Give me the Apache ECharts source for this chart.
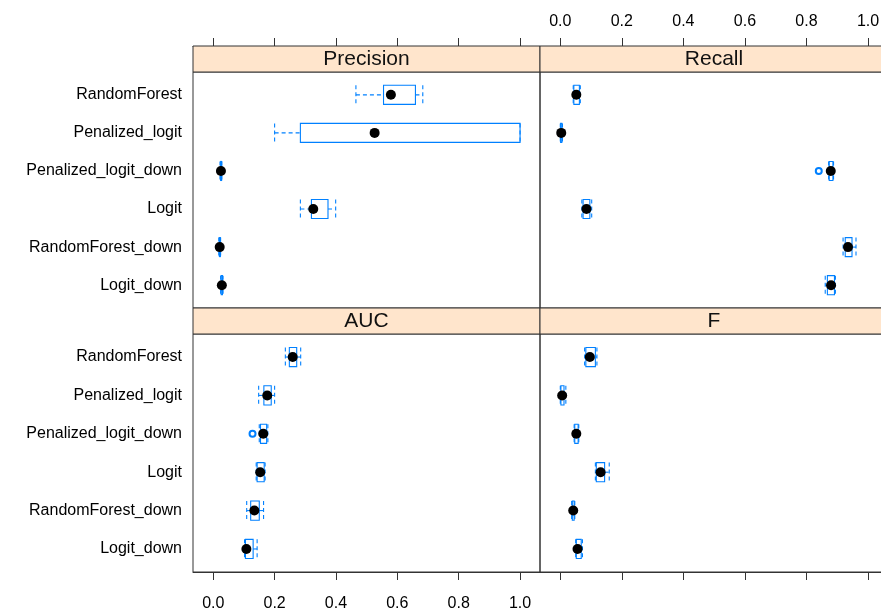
<!DOCTYPE html>
<html>
<head>
<meta charset="utf-8">
<script src="https://cdn.jsdelivr.net/npm/echarts@6/dist/echarts.min.js"></script>
<style>html,body{margin:0;padding:0;background:#fff;overflow:hidden}#c{width:900px;height:609px}</style>
</head>
<body>
<div id="c"></div>
<script>
// categories listed bottom to top (lattice order)
const categories = ['Logit_down', 'RandomForest_down', 'Logit', 'Penalized_logit_down', 'Penalized_logit', 'RandomForest'];
const panelTitles = ['Precision', 'Recall', 'AUC', 'F'];
const xTicks = [0, 0.2, 0.4, 0.6, 0.8, 1.0];

// [min, q1, median, q3, max] per category (same order as categories)
const precisionStats = [
  [0.024, 0.026, 0.028, 0.030, 0.032],
  [0.018, 0.020, 0.021, 0.023, 0.024],
  [0.284, 0.320, 0.326, 0.374, 0.399],
  [0.022, 0.024, 0.025, 0.027, 0.028],
  [0.200, 0.284, 0.526, 1.000, 1.000],
  [0.465, 0.555, 0.579, 0.659, 0.683]
];
const recallStats = [
  [0.861, 0.868, 0.880, 0.891, 0.894],
  [0.919, 0.926, 0.935, 0.948, 0.961],
  [0.070, 0.074, 0.085, 0.096, 0.102],
  [0.872, 0.874, 0.879, 0.886, 0.888],
  [0.000, 0.001, 0.003, 0.005, 0.007],
  [0.042, 0.044, 0.052, 0.062, 0.065]
];
const aucStats = [
  [0.102, 0.105, 0.108, 0.130, 0.143],
  [0.109, 0.122, 0.134, 0.150, 0.164],
  [0.140, 0.143, 0.153, 0.166, 0.169],
  [0.150, 0.154, 0.163, 0.174, 0.178],
  [0.148, 0.165, 0.176, 0.189, 0.200],
  [0.235, 0.248, 0.259, 0.272, 0.285]
];
const fStats = [
  [0.050, 0.052, 0.056, 0.068, 0.072],
  [0.037, 0.039, 0.042, 0.045, 0.047],
  [0.114, 0.117, 0.131, 0.144, 0.159],
  [0.045, 0.047, 0.052, 0.058, 0.060],
  [0.000, 0.002, 0.006, 0.012, 0.018],
  [0.079, 0.083, 0.096, 0.114, 0.119]
];
// outliers: [value, category]
const precisionOutliers = [];
const recallOutliers = [[0.840, 'Penalized_logit_down']];
const aucOutliers = [[0.128, 'Penalized_logit_down']];
const fOutliers = [];

const allStats = [precisionStats, recallStats, aucStats, fStats];
const allOutliers = [precisionOutliers, recallOutliers, aucOutliers, fOutliers];

const BLUE = '#0080ff';
const FRAME = '#333333';
const STRIP = '#ffe5cc';
const FONT = '"Liberation Sans", Arial, sans-serif';
const XMIN = -0.066, XMAX = 1.065;

const grids = [
  {left: 193, top: 72, width: 347, height: 236},
  {left: 540, top: 72, width: 348, height: 236},
  {left: 193, top: 334, width: 347, height: 238},
  {left: 540, top: 334, width: 348, height: 238}
];

function renderBox(params, api) {
  const y = api.value(0);
  const p = [1, 2, 3, 4, 5].map(i => api.coord([api.value(i), y]));
  const h = api.size([0, 0.5])[1];
  const cy = p[0][1];
  const solid = {stroke: BLUE, fill: null, lineWidth: 1.1};
  const dashed = {stroke: BLUE, fill: null, lineWidth: 1.1, lineDash: [4, 3]};
  const ch = [];
  if (p[1][0] - p[0][0] > 0.5) ch.push({type: 'line', shape: {x1: p[0][0], y1: cy, x2: p[1][0], y2: cy}, style: dashed});
  if (p[4][0] - p[3][0] > 0.5) ch.push({type: 'line', shape: {x1: p[3][0], y1: cy, x2: p[4][0], y2: cy}, style: dashed});
  ch.push({type: 'line', shape: {x1: p[0][0], y1: cy - h / 2, x2: p[0][0], y2: cy + h / 2}, style: dashed});
  ch.push({type: 'line', shape: {x1: p[4][0], y1: cy - h / 2, x2: p[4][0], y2: cy + h / 2}, style: dashed});
  ch.push({type: 'rect', shape: {x: p[1][0], y: cy - h / 2, width: Math.max(p[3][0] - p[1][0], 1), height: h}, style: solid});
  return {type: 'group', children: ch};
}

const xAxes = grids.map((g, i) => {
  const isTop = i < 2;
  const showLabel = i === 1 || i === 2;
  return {
    type: 'value', gridIndex: i, min: XMIN, max: XMAX,
    position: isTop ? 'top' : 'bottom',
    offset: isTop ? 26 : 0,
    axisLine: {show: true, lineStyle: {color: FRAME, width: 1}},
    axisTick: {show: true, inside: false, length: 8, customValues: xTicks, lineStyle: {color: FRAME, width: 1}},
    axisLabel: {show: showLabel, customValues: xTicks, margin: isTop ? 16 : 24,
      formatter: v => v.toFixed(1), fontSize: 16, color: '#000', fontFamily: FONT},
    splitLine: {show: false}
  };
});

const yAxes = grids.map((g, i) => ({
  type: 'value', gridIndex: i, min: 0.4, max: 6.6,
  axisLine: {show: false}, axisTick: {show: false}, splitLine: {show: false},
  axisLabel: {show: i === 0 || i === 2, customValues: [1, 2, 3, 4, 5, 6], margin: 11,
    formatter: v => categories[Math.round(v) - 1] || '', fontSize: 16, color: '#000', fontFamily: FONT}
}));

const series = [];
allStats.forEach((stats, i) => {
  series.push({
    type: 'custom', xAxisIndex: i, yAxisIndex: i, renderItem: renderBox, clip: false,
    encode: {x: [1, 2, 3, 4, 5], y: 0},
    data: stats.map((s, k) => [k + 1].concat(s)), silent: true
  });
  series.push({
    type: 'scatter', xAxisIndex: i, yAxisIndex: i, symbol: 'emptyCircle', symbolSize: 6,
    itemStyle: {color: BLUE, borderWidth: 1, opacity: 1}, z: 3,
    data: allOutliers[i].map(o => [o[0], categories.indexOf(o[1]) + 1])
  });
  series.push({
    type: 'scatter', xAxisIndex: i, yAxisIndex: i, symbol: 'circle', symbolSize: 10,
    itemStyle: {color: '#000', opacity: 1}, z: 4,
    data: stats.map((s, k) => [s[2], k + 1])
  });
});

const graphics = [];
grids.forEach((g, i) => {
  graphics.push({type: 'rect', shape: {x: g.left, y: g.top - 26, width: g.width, height: 26},
    style: {fill: STRIP, stroke: FRAME, lineWidth: 1}, z: 1});
  graphics.push({type: 'text', x: g.left + g.width / 2, y: g.top - 13,
    style: {text: panelTitles[i], font: '21px ' + FONT, fill: '#111', textAlign: 'center', textVerticalAlign: 'middle'}, z: 2});
});

const chart = echarts.init(document.getElementById('c'), null, {renderer: 'canvas'});
chart.setOption({
  animation: false,
  backgroundColor: '#fff',
  grid: grids.map(g => Object.assign({show: true, borderColor: FRAME, borderWidth: 1, backgroundColor: 'transparent',
    containLabel: false, outerBoundsMode: 'none'}, g)),
  xAxis: xAxes,
  yAxis: yAxes,
  series: series,
  graphic: graphics
});
</script>
</body>
</html>
